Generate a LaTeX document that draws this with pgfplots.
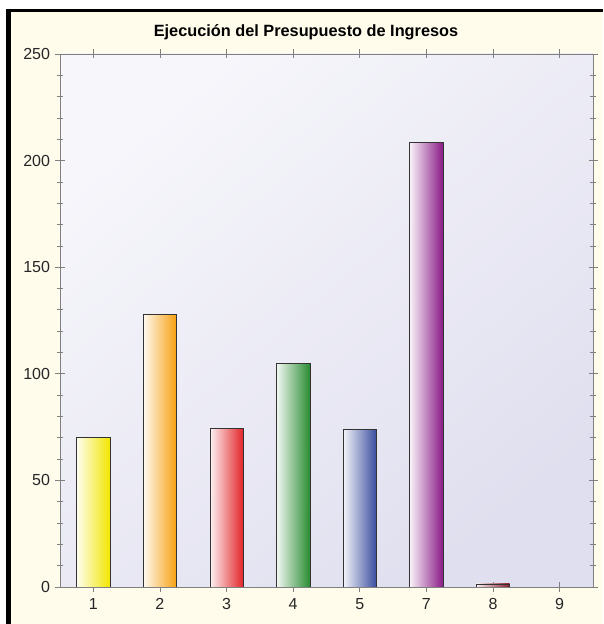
\documentclass[border=0pt]{standalone}
\usepackage{fontspec}
\setmainfont{Liberation Sans}
\usepackage{pgfplots}
\pgfplotsset{compat=1.18}

\definecolor{cream}{HTML}{FFFCEC}
\definecolor{bgtop}{HTML}{F6F6FB}
\definecolor{bgbot}{HTML}{E0DFEF}
\definecolor{axgray}{HTML}{808080}
\definecolor{cYel}{HTML}{F2E600}
\definecolor{cOra}{HTML}{F6A010}
\definecolor{cRed}{HTML}{E2252A}
\definecolor{cGre}{HTML}{2A8C32}
\definecolor{cBlu}{HTML}{3A4E9E}
\definecolor{cPur}{HTML}{8A1A86}
\definecolor{cDrd}{HTML}{8A1C2C}

\pgfplotsset{
  gbar/.style={fill=#1, draw=black!80, line width=0.6pt,
    left color=#1!6, middle color=#1!65, right color=#1}
}

\begin{document}
\begin{tikzpicture}[x=1pt,y=1pt]
% page and frame
\fill[white] (0,0) rectangle (603,624);
\fill[cream] (8,0) rectangle (603,613);
\fill[black] (6,0) rectangle (11,615);
\fill[black] (6,612) rectangle (603,615);
\node[font=\fontsize{16.3}{19}\selectfont\bfseries] at (306,592) {Ejecución del Presupuesto de Ingresos};

\begin{axis}[
  at={(60pt,37pt)}, anchor=south west,
  scale only axis,
  width=533pt, height=533pt,
  xmin=-0.5, xmax=7.5,
  ymin=0, ymax=250,
  ybar, bar width=0.5, bar shift=0pt,
  xtick={0,...,7},
  xticklabels={1,2,3,4,5,7,8,9},
  ytick={0,50,...,250},
  minor y tick num=4,
  tick align=center,
  major tick length=9pt,
  minor tick length=6pt,
  axis line style={axgray, line width=0.8pt},
  every tick/.style={axgray, line width=0.7pt},
  tick label style={font=\fontsize{16}{18}\selectfont, black!85},
  xticklabel style={yshift=-3pt},
  yticklabel style={xshift=-2pt},
  /pgf/number format/assume math mode=true,
  axis background/.style={top color=bgtop, bottom color=bgbot, shading angle=40},
]
\addplot[gbar=cYel] coordinates {(0,70)};
\addplot[gbar=cOra] coordinates {(1,128)};
\addplot[gbar=cRed] coordinates {(2,74.5)};
\addplot[gbar=cGre] coordinates {(3,105)};
\addplot[gbar=cBlu] coordinates {(4,74)};
\addplot[gbar=cPur] coordinates {(5,208.5)};
\addplot[gbar=cDrd] coordinates {(6,1.5)};
\addplot[draw=none, fill=none] coordinates {(7,0)};
\end{axis}
\end{tikzpicture}
\end{document}
